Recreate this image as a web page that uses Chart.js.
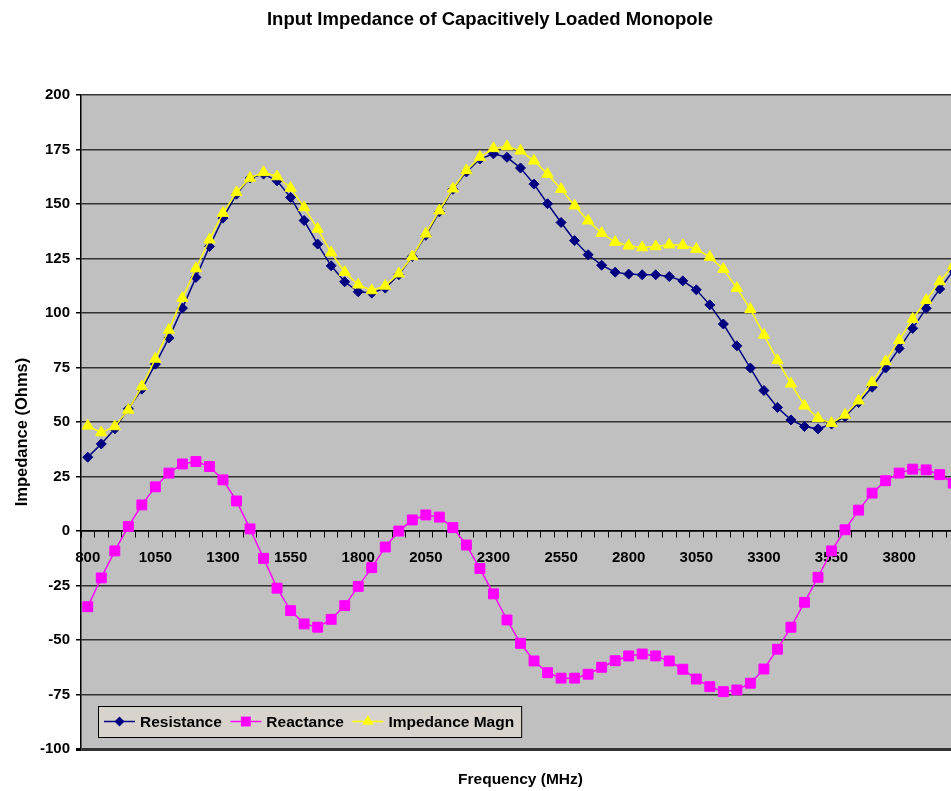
<!DOCTYPE html>
<html>
<head>
<meta charset="utf-8">
<title>Input Impedance of Capacitively Loaded Monopole</title>
<script src="https://cdn.jsdelivr.net/npm/chart.js@4.4.1/dist/chart.umd.min.js"></script>
<style>
  html, body { margin: 0; padding: 0; background: #fff; overflow: hidden; }
</style>
</head>
<body>
<canvas id="impChart" width="980" height="791"></canvas>
<script>
// Frecuencias (MHz), una categoria cada 50 MHz
var frecuencias = [800, 850, 900, 950, 1000, 1050, 1100, 1150, 1200, 1250,
    1300, 1350, 1400, 1450, 1500, 1550, 1600, 1650, 1700, 1750,
    1800, 1850, 1900, 1950, 2000, 2050, 2100, 2150, 2200, 2250,
    2300, 2350, 2400, 2450, 2500, 2550, 2600, 2650, 2700, 2750,
    2800, 2850, 2900, 2950, 3000, 3050, 3100, 3150, 3200, 3250,
    3300, 3350, 3400, 3450, 3500, 3550, 3600, 3650, 3700, 3750,
    3800, 3850, 3900, 3950, 4000];

// Valores (Ohms)
var resistencia = [33.9, 40.0, 46.9, 56.1, 65.1, 76.6, 88.6, 102.3, 116.4, 130.6,
    143.6, 154.6, 162.0, 163.8, 160.7, 153.1, 142.5, 131.7, 121.7, 114.4,
    109.8, 109.2, 111.5, 117.6, 126.0, 135.7, 146.5, 156.8, 164.8, 170.7,
    173.1, 171.5, 166.6, 159.2, 150.2, 141.6, 133.3, 126.8, 122.0, 118.8,
    117.9, 117.6, 117.6, 116.8, 114.8, 110.7, 103.8, 95.0, 85.0, 74.8,
    64.5, 56.7, 51.0, 48.0, 46.9, 49.1, 52.5, 59.0, 66.0, 74.8,
    83.8, 93.0, 102.2, 111.1, 119.5];

var reactancia = [-34.7, -21.5, -9.1, 2.1, 12.0, 20.3, 26.6, 30.8, 31.9, 29.6,
    23.5, 13.8, 1.0, -12.5, -26.2, -36.5, -42.6, -44.1, -40.5, -34.2,
    -25.4, -16.8, -7.3, 0.0, 5.1, 7.4, 6.4, 1.6, -6.4, -17.2,
    -28.8, -40.8, -51.5, -59.6, -65.0, -67.5, -67.5, -65.7, -62.5, -59.5,
    -57.3, -56.4, -57.3, -59.6, -63.4, -67.9, -71.4, -73.7, -72.9, -69.8,
    -63.3, -54.2, -44.1, -32.7, -21.2, -9.1, 0.6, 9.6, 17.4, 23.1,
    26.6, 28.4, 28.1, 25.9, 22.0];

var magnitud = [48.3, 45.2, 48.0, 55.6, 66.3, 79.0, 92.3, 106.9, 120.5, 133.7,
    145.9, 155.4, 162.0, 164.6, 162.7, 157.4, 148.5, 138.6, 127.8, 118.8,
    113.0, 110.4, 112.5, 118.1, 126.0, 136.4, 147.0, 157.1, 165.5, 171.6,
    175.6, 176.5, 174.5, 169.9, 163.8, 156.9, 149.3, 142.4, 136.7, 132.6,
    130.9, 130.1, 130.6, 131.4, 131.1, 129.4, 125.7, 120.2, 111.5, 101.8,
    90.0, 78.3, 67.6, 57.5, 51.8, 49.5, 53.3, 59.8, 68.2, 77.8,
    87.6, 97.3, 105.9, 114.5, 121.8];

var FUENTE = '"Liberation Sans", Arial, Helvetica, sans-serif';
Chart.defaults.font.family = FUENTE;
Chart.defaults.color = '#000';

// Fondo gris del area de trazado
var fondoGris = {
    id: 'fondoGris',
    beforeDraw: function (chart) {
        var a = chart.chartArea, ctx = chart.ctx;
        ctx.save();
        ctx.fillStyle = '#c0c0c0';
        ctx.fillRect(a.left, a.top, a.right - a.left, a.bottom - a.top);
        ctx.restore();
    }
};

function dibujarMarca(ctx, estilo, x, y, r) {
    ctx.beginPath();
    if (estilo === 'rectRot') {
        ctx.moveTo(x, y - r); ctx.lineTo(x + r, y); ctx.lineTo(x, y + r); ctx.lineTo(x - r, y);
    } else if (estilo === 'rect') {
        var s = r * Math.SQRT1_2;
        ctx.rect(x - s, y - s, 2 * s, 2 * s);
    } else {
        ctx.moveTo(x, y - r);
        ctx.lineTo(x + r * 0.866, y + r * 0.5);
        ctx.lineTo(x - r * 0.866, y + r * 0.5);
    }
    ctx.closePath();
    ctx.fill();
}

// Leyenda en caja dentro del area, y titulos de ejes
var leyendaCaja = {
    id: 'leyendaCaja',
    afterDraw: function (chart) {
        var a = chart.chartArea, ctx = chart.ctx;
        var sets = chart.data.datasets;
        ctx.save();
        ctx.font = 'bold 15.5px ' + FUENTE;
        var x0 = a.left + 17, y0 = a.bottom - 43, h = 31;
        var ancho = 6;
        sets.forEach(function (ds, i) {
            ancho += 36 + ctx.measureText(ds.label).width + (i < sets.length - 1 ? 8.5 : 7);
        });
        ctx.fillStyle = '#d9d3ce';
        ctx.fillRect(x0, y0, ancho, h);
        ctx.strokeStyle = '#000';
        ctx.lineWidth = 1;
        ctx.strokeRect(x0 + 0.5, y0 + 0.5, ancho, h);
        var x = x0 + 6, ym = y0 + h / 2;
        ctx.textBaseline = 'middle';
        sets.forEach(function (ds) {
            ctx.strokeStyle = ds.borderColor;
            ctx.lineWidth = 1.5;
            ctx.beginPath();
            ctx.moveTo(x, ym); ctx.lineTo(x + 31, ym);
            ctx.stroke();
            ctx.fillStyle = ds.pointBackgroundColor;
            dibujarMarca(ctx, ds.pointStyle, x + 15.5, ym, ds.pointRadius);
            ctx.fillStyle = '#000';
            ctx.fillText(ds.label, x + 36, ym + 1);
            x += 36 + ctx.measureText(ds.label).width + 8.5;
        });

        // titulo eje X
        ctx.textAlign = 'center';
        ctx.font = 'bold 15.5px ' + FUENTE;
        ctx.fillText('Frequency (MHz)', (a.left + a.right) / 2, 780);
        // titulo eje Y
        ctx.translate(22, 432);
        ctx.rotate(-Math.PI / 2);
        ctx.font = 'bold 16.5px ' + FUENTE;
        ctx.fillText('Impedance (Ohms)', 0, 0);
        ctx.restore();
    }
};

var ctx = document.getElementById('impChart').getContext('2d');

var impChart = new Chart(ctx, {
    type: 'line',
    data: {
        labels: frecuencias,
        datasets: [{
            label: 'Resistance',
            data: resistencia,
            borderColor: '#000080',
            borderWidth: 1.5,
            pointStyle: 'rectRot',
            pointRadius: 5,
            pointBackgroundColor: '#000080',
            pointBorderColor: '#000080',
            pointBorderWidth: 1,
            order: 3
        }, {
            label: 'Reactance',
            data: reactancia,
            borderColor: '#ff00ff',
            borderWidth: 1.5,
            pointStyle: 'rect',
            pointRadius: 7,
            pointBackgroundColor: '#ff00ff',
            pointBorderColor: '#ff00ff',
            pointBorderWidth: 1,
            order: 2
        }, {
            label: 'Impedance Magn',
            data: magnitud,
            borderColor: '#ffff00',
            borderWidth: 1.5,
            pointStyle: 'triangle',
            pointRadius: 6.5,
            pointBackgroundColor: '#ffff00',
            pointBorderColor: '#ffff00',
            pointBorderWidth: 1,
            order: 1
        }]
    },
    options: {
        responsive: false,
        animation: false,
        devicePixelRatio: 1,
        layout: { padding: { left: 20, right: 20, top: 0, bottom: 42 } },
        elements: { line: { tension: 0, fill: false } },
        plugins: {
            legend: { display: false },
            tooltip: { enabled: false },
            title: {
                display: true,
                text: 'Input Impedance of Capacitively Loaded Monopole',
                font: { size: 18.5, weight: 'bold' },
                color: '#000',
                padding: { top: 9, bottom: 64 }
            }
        },
        scales: {
            x: {
                type: 'category',
                position: { y: 0 },
                offset: true,
                grid: {
                    offset: true,
                    drawOnChartArea: false,
                    drawTicks: true,
                    tickLength: 6,
                    color: '#000',
                    lineWidth: 1
                },
                border: { color: '#000', width: 1.5 },
                ticks: {
                    autoSkip: false,
                    maxRotation: 0,
                    padding: 12,
                    font: { size: 15, weight: 'bold' },
                    color: '#000',
                    callback: function (v, i) {
                        return i % 5 === 0 ? String(frecuencias[i]) : '';
                    }
                }
            },
            y: {
                min: -100,
                max: 200,
                afterFit: function (scale) { scale.width = 61; },
                grid: {
                    color: function (c) { return c.tick && c.tick.value === 0 ? '#000' : '#333'; },
                    lineWidth: function (c) { return c.tick && c.tick.value === -100 ? 3 : 1.5; },
                    tickLength: 5,
                    tickColor: '#000'
                },
                border: { color: '#000', width: 1.5 },
                ticks: {
                    stepSize: 25,
                    padding: 6,
                    font: { size: 15, weight: 'bold' },
                    color: '#000'
                }
            }
        }
    },
    plugins: [fondoGris, leyendaCaja]
});
</script>
</body>
</html>
